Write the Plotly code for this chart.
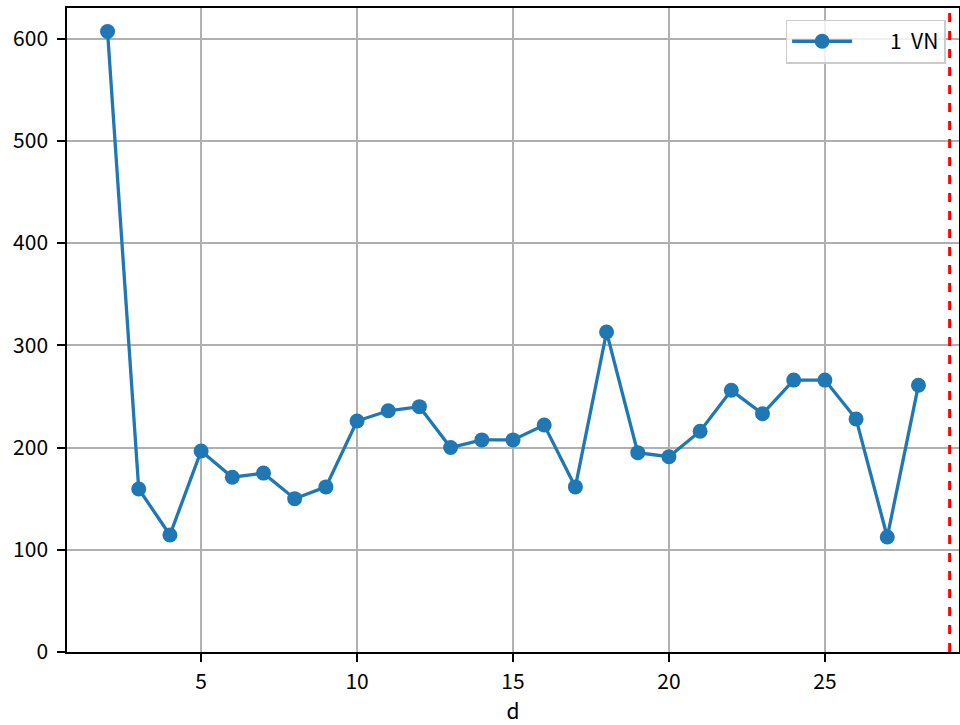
import plotly.graph_objects as go

d = list(range(2, 29))
vn = [607, 159.5, 114.5, 196.7, 171, 175, 150, 161.5, 226, 236, 240, 200, 207.5, 207.5,
      222, 161.5, 313, 195, 191, 216, 256, 233, 266, 266, 228, 112.5, 261]
vline_x = 29
x_ticks = [5, 10, 15, 20, 25]
y_ticks = [0, 100, 200, 300, 400, 500, 600]

FONT = "Noto Sans CJK JP"
BLUE = "#1f77b4"
FS = 21

fig = go.Figure()
fig.add_trace(go.Scatter(
    x=d, y=vn, mode="lines+markers",
    name="\u00a0\u00a0\u00a0\u00a0\u00a0\u00a0\u00a01\u00a0\u00a0VN",
    line=dict(color=BLUE, width=3.3),
    marker=dict(color=BLUE, size=15),
))
fig.add_shape(type="line", x0=vline_x, x1=vline_x, y0=0, y1=1, yref="paper",
              line=dict(color="red", width=3, dash="dash"))

axis_common = dict(
    showline=True, linecolor="black", linewidth=1.5, mirror=True,
    ticks="outside", ticklen=8, tickwidth=1.5, tickcolor="black",
    showgrid=True, gridcolor="#b0b0b0", gridwidth=1.6,
    zeroline=False, tickfont=dict(family=FONT, size=FS, color="black"),
    automargin=False,
)
fig.update_xaxes(range=[0.7, 29.3], tickvals=x_ticks, ticklabelstandoff=2,
                 title=dict(text="d", font=dict(family=FONT, size=FS, color="black"), standoff=14),
                 **axis_common)
fig.update_yaxes(range=[0, 630], tickvals=y_ticks, ticklabelstandoff=5, **axis_common)

fig.update_layout(
    width=960, height=725,
    margin=dict(l=67, r=1, t=8, b=73, autoexpand=False),
    paper_bgcolor="white", plot_bgcolor="white",
    font=dict(family=FONT, size=FS, color="black"),
    showlegend=True,
    legend=dict(x=0.985, y=0.982, xanchor="right", yanchor="top", itemwidth=60,
                bgcolor="rgba(255,255,255,0.8)", bordercolor="#cccccc", borderwidth=1.5,
                font=dict(family=FONT, size=FS, color="black")),
)
fig.write_html("out.html", config={"displayModeBar": False},
               post_script="document.body.style.margin='0px';")
